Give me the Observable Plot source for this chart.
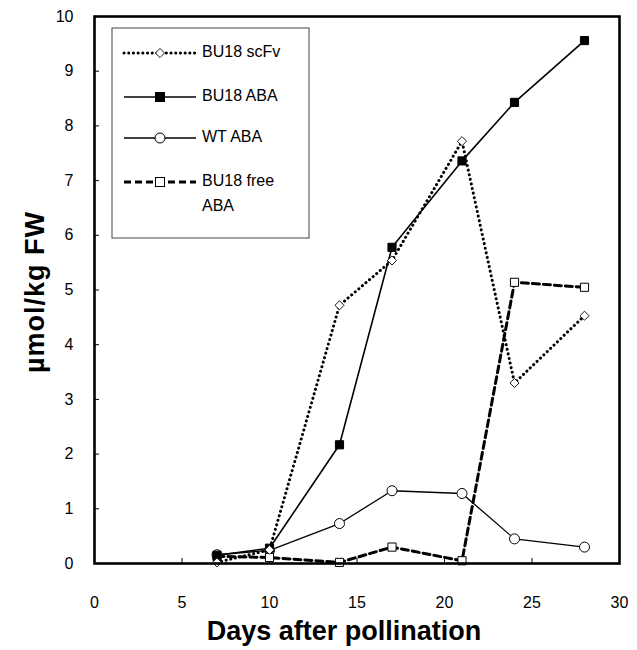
<!DOCTYPE html>
<html><head><meta charset="utf-8">
<script src="https://cdn.jsdelivr.net/npm/d3@7"></script>
<script src="https://cdn.jsdelivr.net/npm/@observablehq/plot@0.6"></script>
<style>body{margin:0;background:#fff;} svg{font-family:Arial,"Liberation Sans",sans-serif;}</style>
</head><body><div id="chart"></div>
<script>
const days = [7, 10, 14, 17, 21, 24, 28];
const scFv = [0.02, 0.25, 4.72, 5.54, 7.72, 3.30, 4.53];
const bu18ABA = [0.15, 0.28, 2.17, 5.78, 7.36, 8.43, 9.56];
const wtABA = [0.16, 0.24, 0.73, 1.33, 1.28, 0.45, 0.30];
const freeABA = [0.13, 0.11, 0.02, 0.30, 0.05, 5.14, 5.05];
const xTicks = [0, 5, 10, 15, 20, 25, 30];
const yTicks = [0, 1, 2, 3, 4, 5, 6, 7, 8, 9, 10];
const seriesNames = ["BU18 scFv", "BU18 ABA", "WT ABA", "BU18 free ABA"];
const xTitle = "Days after pollination";
const yTitle = "µmol/kg FW";

const rows = vals => days.map((d, i) => ({day: d, v: vals[i]}));
const S = {
  scFv: rows(scFv), aba: rows(bu18ABA), wt: rows(wtABA), free: rows(freeABA)
};
const styles = [
  {strokeWidth: 3, strokeDasharray: "0.1,4.6", strokeLinecap: "round"},
  {strokeWidth: 1.6},
  {strokeWidth: 1.3},
  {strokeWidth: 3, strokeDasharray: "7,4"}
];
const dR = 4.1;

const chart = Plot.plot({
  width: 637, height: 650,
  marginLeft: 94, marginRight: 18, marginTop: 16, marginBottom: 87,
  x: {domain: [0, 30]},
  y: {domain: [0, 10]},
  style: {fontFamily: "Arial, 'Liberation Sans', sans-serif", fontSize: "16px", color: "black"},
  marks: [
    Plot.axisX(xTicks, {tickSize: 0, tickPadding: 33, fontSize: 16, tickFormat: d => String(d), label: null}),
    Plot.axisX(xTicks, {tickSize: -5, tickFormat: () => "", label: null}),
    Plot.axisY(yTicks, {tickSize: 0, tickPadding: 21, fontSize: 16, tickFormat: d => String(d), label: null}),
    Plot.axisY(yTicks, {tickSize: -5, tickFormat: () => "", label: null}),
    Plot.line(S.wt, {x: "day", y: "v", stroke: "black", ...styles[2]}),
    Plot.line(S.free, {x: "day", y: "v", stroke: "black", ...styles[3]}),
    Plot.line(S.aba, {x: "day", y: "v", stroke: "black", ...styles[1]}),
    Plot.line(S.scFv, {x: "day", y: "v", stroke: "black", ...styles[0]}),
    Plot.dot(S.wt, {x: "day", y: "v", r: 5, fill: "white", stroke: "black", strokeWidth: 1}),
    Plot.dot(S.free, {x: "day", y: "v", symbol: "square", r: 4.6, fill: "white", stroke: "black", strokeWidth: 1}),
    Plot.dot(S.aba, {x: "day", y: "v", symbol: "square", r: 4.6, fill: "black", stroke: "black", strokeWidth: 1}),
    Plot.dot(S.scFv, {x: "day", y: "v", symbol: "diamond2", r: dR, fill: "white", stroke: "black", strokeWidth: 0.9}),
    Plot.frame({stroke: "black", strokeWidth: 2.6})
  ]
});
document.getElementById("chart").appendChild(chart);

const svg = d3.select(chart);
// axis titles
svg.append("text").attr("x", 344).attr("y", 633)
  .attr("text-anchor", "middle").attr("dominant-baseline", "middle")
  .attr("font-weight", "bold").attr("font-size", 27).attr("fill", "black").text(xTitle);
svg.append("text").attr("transform", "translate(37,292) rotate(-90)")
  .attr("text-anchor", "middle").attr("dominant-baseline", "middle")
  .attr("letter-spacing", 1)
  .attr("font-weight", "bold").attr("font-size", 27).attr("fill", "black").text(yTitle);

// legend
const lg = svg.append("g").attr("text-anchor", "start");
lg.append("rect").attr("x", 112).attr("y", 28).attr("width", 197).attr("height", 210)
  .attr("fill", "white").attr("stroke", "#444").attr("stroke-width", 1);
const rowY = [53, 97, 138, 182];
seriesNames.forEach((name, i) => {
  const y = rowY[i];
  const st = styles[i];
  lg.append("line").attr("x1", 124).attr("x2", 196).attr("y1", y).attr("y2", y)
    .attr("stroke", "black").attr("stroke-width", st.strokeWidth)
    .attr("stroke-dasharray", st.strokeDasharray || null)
    .attr("stroke-linecap", st.strokeLinecap || null);
  if (i === 0) {
    lg.append("path").attr("d", d3.symbol(d3.symbolDiamond2, Math.PI * dR * dR)())
      .attr("transform", `translate(160,${y})`).attr("fill", "white").attr("stroke", "black").attr("stroke-width", 0.9);
  } else if (i === 1 || i === 3) {
    lg.append("rect").attr("x", 155.5).attr("y", y - 4.5).attr("width", 9).attr("height", 9)
      .attr("fill", i === 1 ? "black" : "white").attr("stroke", "black").attr("stroke-width", 1);
  } else {
    lg.append("circle").attr("cx", 160).attr("cy", y).attr("r", 5)
      .attr("fill", "white").attr("stroke", "black").attr("stroke-width", 1);
  }
  const t = lg.append("text").attr("x", 202).attr("y", y).attr("dominant-baseline", "middle")
    .attr("text-anchor", "start").attr("font-size", 16).attr("fill", "black");
  if (i === 3) {
    t.append("tspan").attr("x", 202).attr("y", y).text("BU18 free");
    t.append("tspan").attr("x", 202).attr("y", y + 25).text("ABA");
  } else {
    t.text(name);
  }
});
</script>
</body></html>
